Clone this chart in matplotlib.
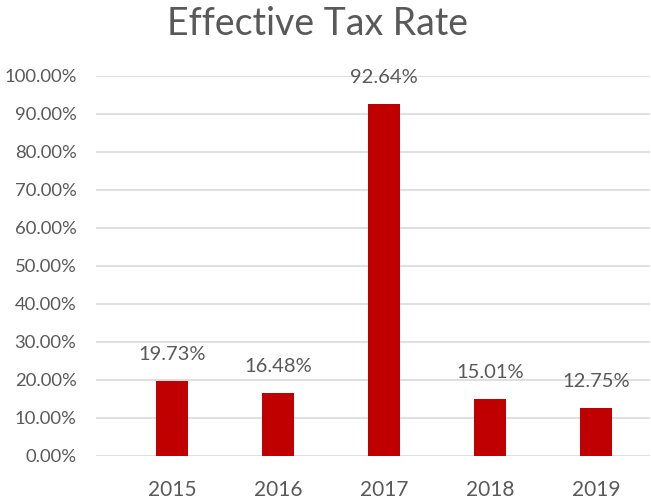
import matplotlib
matplotlib.use("Agg")
import matplotlib.pyplot as plt
from matplotlib.ticker import MultipleLocator, FuncFormatter

YEARS = ["2015", "2016", "2017", "2018", "2019"]
RATES = [19.73, 16.48, 92.64, 15.01, 12.75]

BAR_COLOR = "#C00000"
TEXT_COLOR = "#595959"
GRID_COLOR = "#D9D9D9"

plt.rcParams["font.family"] = ["Lato", "DejaVu Sans"]

fig = plt.figure(figsize=(6.51, 5.0), dpi=100)
ax = fig.add_axes([0.1475, 0.088, 0.851, 0.76])

x = list(range(len(YEARS)))
ax.bar(x, [r / 100 for r in RATES], width=0.31, color=BAR_COLOR, zorder=3)

for xi, r in zip(x, RATES):
    ax.annotate(f"{r:.2f}%", (xi, r / 100), xytext=(0, 19), textcoords="offset points",
                ha="center", va="center", fontsize=14.5, color=TEXT_COLOR)

ax.set_ylim(0, 1.0)
ax.set_xlim(-0.717, 4.51)
ax.yaxis.set_major_locator(MultipleLocator(0.1))
ax.yaxis.set_major_formatter(FuncFormatter(lambda v, _: f"{v * 100:.2f}%"))
ax.set_xticks(x)
ax.set_xticklabels(YEARS)
ax.tick_params(axis="both", length=0, labelcolor=TEXT_COLOR)
ax.tick_params(axis="x", pad=17, labelsize=15)
ax.tick_params(axis="y", pad=14, labelsize=13.3)

ax.grid(axis="y", color=GRID_COLOR, linewidth=1.2, zorder=0)
for side in ["top", "right", "left", "bottom"]:
    ax.spines[side].set_visible(False)

fig.text(0.487, 0.952, "Effective Tax Rate", ha="center", va="center",
         fontsize=27, color=TEXT_COLOR)

fig.savefig("out.png", dpi=100)
